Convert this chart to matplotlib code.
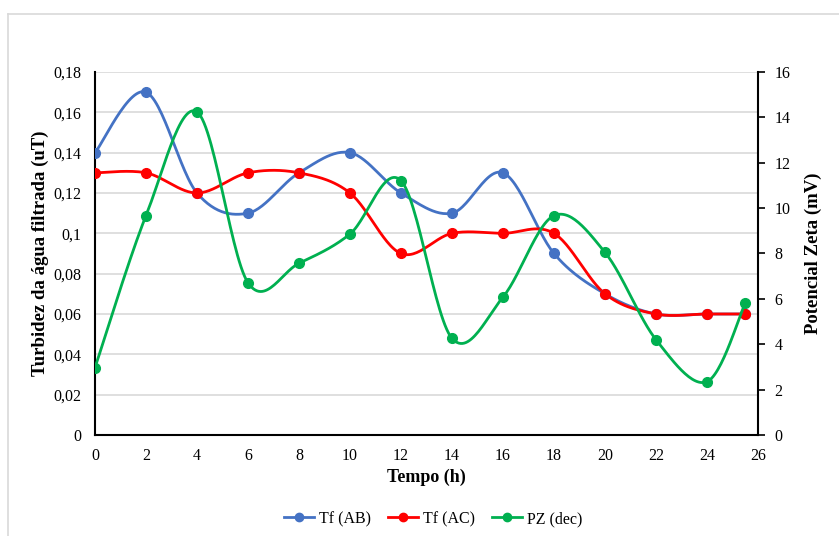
import numpy as np
import matplotlib
matplotlib.use("Agg")
import matplotlib.pyplot as plt
from matplotlib.lines import Line2D

plt.rcParams['font.family'] = ['Liberation Serif', 'DejaVu Serif']

tempo = [0, 2, 4, 6, 8, 10, 12, 14, 16, 18, 20, 22, 24, 25.5]
tf_ab = [0.14, 0.17, 0.12, 0.11, 0.13, 0.14, 0.12, 0.11, 0.13, 0.09, 0.07, 0.06, 0.06, 0.06]
tf_ac = [0.13, 0.13, 0.12, 0.13, 0.13, 0.12, 0.09, 0.10, 0.10, 0.10, 0.07, 0.06, 0.06, 0.06]
pz_dec = [2.97, 9.67, 14.24, 6.71, 7.57, 8.86, 11.21, 4.26, 6.08, 9.67, 8.05, 4.20, 2.35, 5.82]

left_ticks = [0, 0.02, 0.04, 0.06, 0.08, 0.1, 0.12, 0.14, 0.16, 0.18]
left_labels = ['0', '0,02', '0,04', '0,06', '0,08', '0,1', '0,12', '0,14', '0,16', '0,18']
right_ticks = [0, 2, 4, 6, 8, 10, 12, 14, 16]
x_ticks = list(range(0, 27, 2))


def smooth(x, y, n=30):
    # Excel-like smoothed line (Catmull-Rom through the points)
    x = np.asarray(x, float)
    y = np.asarray(y, float)
    px = np.concatenate([[x[0]], x, [x[-1]]])
    py = np.concatenate([[y[0]], y, [y[-1]]])
    xs, ys = [], []
    t = np.linspace(0, 1, n)
    for i in range(1, len(px) - 2):
        p0x, p1x, p2x, p3x = px[i - 1:i + 3]
        p0y, p1y, p2y, p3y = py[i - 1:i + 3]
        c1x, c1y = p1x + (p2x - p0x) / 6, p1y + (p2y - p0y) / 6
        c2x, c2y = p2x - (p3x - p1x) / 6, p2y - (p3y - p1y) / 6
        bx = (1 - t) ** 3 * p1x + 3 * (1 - t) ** 2 * t * c1x + 3 * (1 - t) * t ** 2 * c2x + t ** 3 * p2x
        by = (1 - t) ** 3 * p1y + 3 * (1 - t) ** 2 * t * c1y + 3 * (1 - t) * t ** 2 * c2y + t ** 3 * p2y
        xs.append(bx)
        ys.append(by)
    return np.concatenate(xs), np.concatenate(ys)


blue = '#4472C4'
red = '#FF0000'
green = '#00B050'

fig = plt.figure(figsize=(8.39, 5.36), dpi=100)
ax = fig.add_axes([95 / 839, 1 - 435 / 536, (758 - 95) / 839, (435 - 72) / 536])
ax2 = ax.twinx()

for yy, c in [(tf_ab, blue), (tf_ac, red)]:
    sx, sy = smooth(tempo, yy)
    ax.plot(sx, sy, color=c, lw=2, zorder=3)
    ax.plot(tempo, yy, 'o', color=c, ms=7, zorder=4)
sx, sy = smooth(tempo, pz_dec)
ax2.plot(sx, sy, color=green, lw=2, zorder=3)
ax2.plot(tempo, pz_dec, 'o', color=green, ms=7, zorder=4)

ax.set_xlim(0, 26)
ax.set_ylim(0, 0.18)
ax2.set_ylim(0, 16)
ax.set_xticks(x_ticks)
ax.set_yticks(left_ticks)
ax.set_yticklabels(left_labels)
ax2.set_yticks(right_ticks)

ax.grid(axis='y', color='#D9D9D9', lw=1.2)
ax.set_axisbelow(True)
for s in ['top', 'right']:
    ax.spines[s].set_visible(False)
for s in ['top', 'left', 'bottom']:
    ax2.spines[s].set_visible(False)
ax.spines['left'].set_linewidth(1.5)
ax.spines['bottom'].set_linewidth(1.5)
ax2.spines['right'].set_linewidth(1.5)

ax.tick_params(axis='both', length=0, labelsize=11.5)
ax.tick_params(axis='y', pad=10)
ax.tick_params(axis='x', pad=9)
ax2.tick_params(axis='y', length=5, width=1.2, direction='out', labelsize=11.5, pad=7)

ax.set_xlabel('Tempo (h)', fontsize=13, fontweight='bold', labelpad=4)
ax.set_ylabel('Turbidez da água filtrada (uT)', fontsize=13.5, fontweight='bold', labelpad=3)
ax2.set_ylabel('Potencial Zeta (mV)', fontsize=13.5, fontweight='bold', labelpad=10)

handles = [Line2D([], [], color=c, lw=2, marker='o', ms=6) for c in (blue, red, green)]
fig.legend(handles, ['Tf (AB)', 'Tf (AC)', 'PZ (dec)'], loc='center', ncol=3,
           bbox_to_anchor=(433 / 839, 1 - 519 / 536), frameon=False, fontsize=11.5,
           handlelength=1.9, columnspacing=1.05, handletextpad=0.3)

fig.add_artist(Line2D([8 / 839, 1], [1 - 14 / 536, 1 - 14 / 536], color='#D9D9D9', lw=1.2,
                      transform=fig.transFigure))
fig.add_artist(Line2D([8 / 839, 8 / 839], [0, 1 - 14 / 536], color='#D9D9D9', lw=1.2,
                      transform=fig.transFigure))

fig.savefig('out.png', dpi=100)
